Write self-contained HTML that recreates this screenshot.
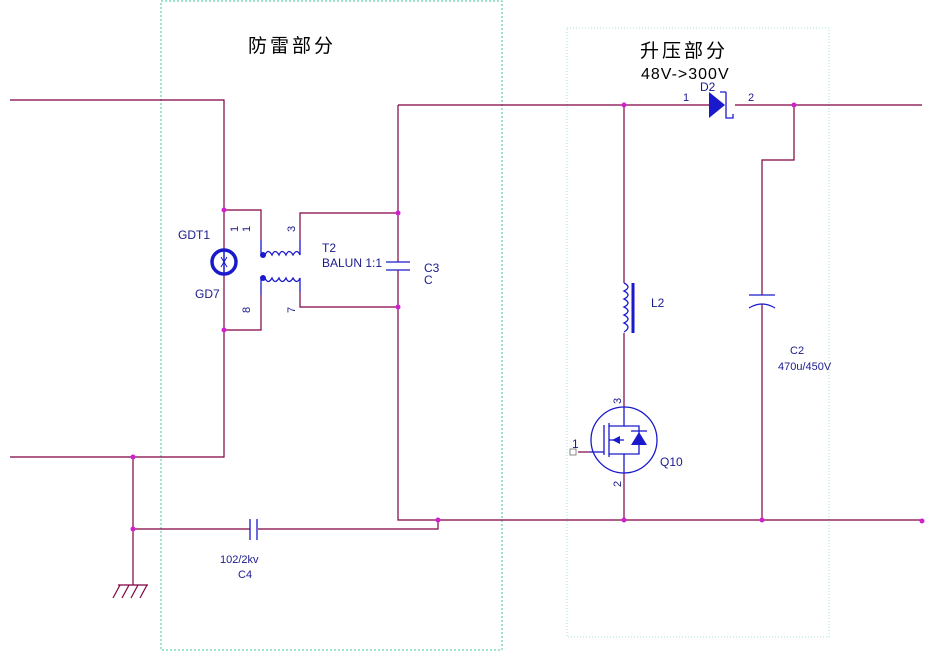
<!DOCTYPE html>
<html><head><meta charset="utf-8"><style>
html,body{margin:0;padding:0;background:#fff;}
svg{display:block;}
text{font-family:"Liberation Sans","Noto Sans CJK SC",sans-serif;fill:#1a1a8c;}
</style></head><body>
<svg width="935" height="651" viewBox="0 0 935 651" xmlns="http://www.w3.org/2000/svg">
<rect x="161" y="1" width="341" height="649" fill="none" stroke="#3cc8a0" stroke-width="1" stroke-dasharray="2,2"/>
<rect x="567" y="28" width="262" height="609" fill="none" stroke="#a8e0d8" stroke-width="1" stroke-dasharray="1,2"/>
<g fill="none" stroke="#800040" stroke-width="1.2">
<polyline points="10,100 224,100 224,250"/>
<polyline points="224,274 224,457 10,457"/>
<polyline points="224,210 261,210 261,240"/>
<polyline points="224,330 261,330 261,295"/>
<polyline points="300,240 300,213 398,213"/>
<polyline points="300,292 300,307 398,307"/>
<line x1="398" y1="105" x2="709" y2="105"/>
<line x1="735" y1="105" x2="922" y2="105"/>
<polyline points="398,105 398,262"/>
<polyline points="398,270 398,520 922,520"/>
<polyline points="438,520 438,529 258,529"/>
<polyline points="250,529 133,529"/>
<polyline points="133,457 133,585"/>
<polyline points="624,105 624,283"/>
<polyline points="624,333 624,407"/>
<polyline points="624,473 624,520"/>
<polyline points="794,105 794,160 762,160 762,295"/>
<polyline points="762,304 762,520"/>
<polyline points="590,452 578,452"/>
</g>
<g stroke="#800040" stroke-width="1.2">
<line x1="113" y1="598" x2="120" y2="585"/><line x1="122" y1="598" x2="129" y2="585"/><line x1="131" y1="598" x2="138" y2="585"/><line x1="140" y1="598" x2="147" y2="585"/>
<line x1="118" y1="585" x2="148" y2="585"/>
</g>
<g fill="#d020d0">
<circle cx="224" cy="210" r="2.5"/><circle cx="224" cy="330" r="2.5"/>
<circle cx="398" cy="213" r="2.5"/><circle cx="398" cy="307" r="2.5"/>
<circle cx="133" cy="457" r="2.5"/><circle cx="133" cy="529" r="2.5"/>
<circle cx="438" cy="520" r="2.5"/><circle cx="624" cy="520" r="2.5"/>
<circle cx="762" cy="520" r="2.5"/><circle cx="922" cy="521" r="2.5"/>
<circle cx="624" cy="105" r="2.5"/><circle cx="794" cy="105" r="2.5"/>
</g>
<g fill="none" stroke="#1a1acc" stroke-width="1.3">
<circle cx="224" cy="262" r="12" stroke-width="3.5"/>
<line x1="224" y1="250" x2="224" y2="274" stroke-width="1.5"/>
<line x1="261" y1="240" x2="261" y2="255"/>
<line x1="261" y1="278" x2="261" y2="295"/>
<path d="M265,255 q3,-7 7,0 q3,-7 7,0 q3,-7 7,0 q3,-7 7,0 q4,-7 7,0 L300,240"/>
<path d="M265,278 q3,7 7,0 q3,7 7,0 q3,7 7,0 q3,7 7,0 q4,7 7,0 L300,292"/>
<line x1="386" y1="262" x2="410" y2="262"/><line x1="386" y1="270" x2="410" y2="270"/>
<line x1="250" y1="519" x2="250" y2="540"/><line x1="257" y1="519" x2="257" y2="540"/>
<path d="M624,283 q8,4 0,8 q8,4 0,8 q8,4 0,8 q8,4 0,8 q8,4 0,8 q8,4 0,9"/>
<line x1="633" y1="283" x2="633" y2="333" stroke-width="3"/>
<line x1="749" y1="295" x2="775" y2="295"/>
<path d="M749,308 q13,-8 26,0"/>
<path d="M726,92 L726,118 L733,118 L733,114 M726,92 L720,92"/>
<circle cx="624" cy="440" r="33"/>
<line x1="604" y1="425" x2="604" y2="455"/>
<line x1="609" y1="423" x2="609" y2="457"/>
<polyline points="609,426 624,426 624,407"/>
<polyline points="609,454 624,454 624,473"/>
<line x1="609" y1="440" x2="624" y2="440"/>
<polyline points="624,426 639,426 639,454 624,454"/>
<line x1="590" y1="452" x2="604" y2="452"/>
<line x1="631" y1="431" x2="647" y2="431"/>
</g>
<polygon points="709,92 709,118 725,105" fill="#1a1acc"/>
<polygon points="631,445 647,445 639,432" fill="#1a1acc"/>
<polygon points="612,440 620,436 620,444" fill="#1a1acc"/>
<circle cx="263" cy="255" r="3" fill="#1a1acc"/><circle cx="263" cy="278" r="3" fill="#1a1acc"/>
<path d="M221,257 l3,5 l3,-5 M221,267 l3,-5 l3,5" stroke="#1a1acc" fill="none"/>
<rect x="570" y="449" width="6" height="6" fill="#fff" stroke="#888"/>
<text x="248" y="52" font-size="19" fill="#000" style="fill:#000;letter-spacing:3px">防雷部分</text>
<text x="640" y="57" font-size="19" style="fill:#000;letter-spacing:3px">升压部分</text>
<text x="641" y="79" font-size="16" style="fill:#000;letter-spacing:1px">48V->300V</text>
<text x="700" y="91" font-size="12">D2</text>
<text x="683" y="101" font-size="11">1</text>
<text x="748" y="101" font-size="11">2</text>
<text x="178" y="239" font-size="12">GDT1</text>
<text x="195" y="298" font-size="12">GD7</text>
<text x="322" y="252" font-size="12">T2</text>
<text x="322" y="267" font-size="12">BALUN 1:1</text>
<text x="424" y="272" font-size="12">C3</text>
<text x="424" y="284" font-size="12">C</text>
<text x="651" y="307" font-size="12">L2</text>
<text x="790" y="354" font-size="11">C2</text>
<text x="778" y="370" font-size="11">470u/450V</text>
<text x="660" y="466" font-size="12">Q10</text>
<text x="572" y="448" font-size="12">1</text>
<text x="220" y="563" font-size="11">102/2kv</text>
<text x="238" y="578" font-size="11">C4</text>
<g font-size="11">
<text transform="translate(238,232) rotate(-90)">1</text>
<text transform="translate(250,232) rotate(-90)">1</text>
<text transform="translate(295,232) rotate(-90)">3</text>
<text transform="translate(250,313) rotate(-90)">8</text>
<text transform="translate(295,313) rotate(-90)">7</text>
<text transform="translate(621,404) rotate(-90)">3</text>
<text transform="translate(621,487) rotate(-90)">2</text>
</g>
</svg>
</body></html>
